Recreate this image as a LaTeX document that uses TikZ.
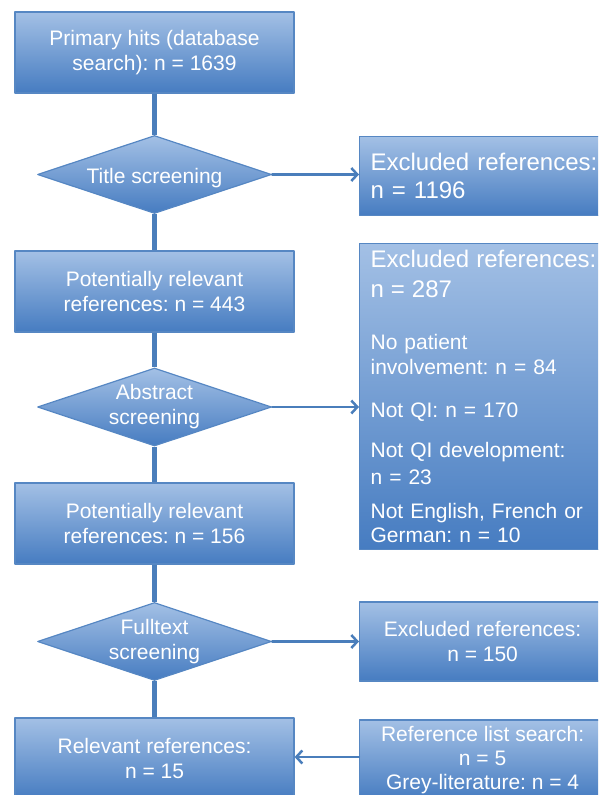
\documentclass[tikz,border=0pt]{standalone}
\usepackage{fontspec}
\setmainfont{Liberation Sans}
\usetikzlibrary{shapes.geometric,arrows.meta}
\definecolor{boxtop}{RGB}{163,192,229}
\definecolor{boxbot}{RGB}{70,124,193}
\definecolor{boxline}{RGB}{86,135,195}
\definecolor{linkblue}{RGB}{74,126,187}
\newcommand{\bigtxt}{\fontsize{24}{28}\selectfont}
\frenchspacing
\tikzset{
  flowbox/.style={rectangle,draw=boxline,line width=1.2pt,top color=boxtop,bottom color=boxbot,
    text=white,align=center,minimum width=279,minimum height=81,inner sep=0pt,
    font=\fontsize{21}{25}\selectfont},
  screenshape/.style={diamond,aspect=3,draw=boxline,line width=1.2pt,top color=boxtop,bottom color=boxbot,
    text=white,align=center,minimum width=234,minimum height=78,inner sep=0pt,
    font=\fontsize{21}{25}\selectfont},
  exbox/.style={flowbox,minimum width=246,minimum height=79},
  flowlink/.style={draw=linkblue,line width=4.5pt,line cap=butt},
  exarrow/.style={draw=linkblue,line width=2.5pt,-{Straight Barb[length=6pt,width=13pt,line width=2.5pt]}}
}
\begin{document}
\begin{tikzpicture}[line cap=round,line join=round,x=1pt,y=-1pt]
    \useasboundingbox(0,0) rectangle (598,795);
    \clip(0,0) rectangle (598,795);

    % Main column
    \draw(154.5,52.5) node[flowbox] (prim) {Primary hits (database\\ search): n = 1639};
    \draw(154.5,174.5) node[screenshape] (tit) {\raisebox{-1.5pt}[\height][0pt]{Title screening}};
    \draw(154.5,291.5) node[flowbox] (pot1) {Potentially relevant\\ references: n = 443};
    \draw(154.5,407) node[screenshape] (abs) {Abstract\\ screening};
    \draw(154.5,523.5) node[flowbox] (pot2) {Potentially relevant\\ references: n = 156};
    \draw(154.5,641.5) node[screenshape] (full) {Fulltext\\ screening};
    \draw(154.5,758.5) node[flowbox] (rel) {Relevant references:\\ n = 15};

    % Side boxes
    \draw(359,136) node[exbox,anchor=north west,align=left,text width=230,inner xsep=11pt,
        font=\bigtxt] (ex1) {Excluded references:\\ n = 1196};
    \draw(359,243) node[exbox,anchor=north west,align=left,text width=230,inner xsep=11pt,
        minimum height=306] (ex2) {{\bigtxt Excluded references:}\\[5pt]
        {\bigtxt n = 287}\\[27pt]
        No patient\\ involvement: n = 84\\[18pt]
        Not QI: n = 170\\[15pt]
        Not QI development:\\[2pt] n = 23\\[9pt]
        Not English, French or\\[-1pt] German: n = 10};
    \draw(359,641.5) node[exbox,anchor=west] (ex3) {Excluded references:\\ n = 150};
    \draw(359,760) node[exbox,anchor=west,minimum height=80,font=\fontsize{21}{24}\selectfont] (add)
        {Reference list search:\\ n = 5\\ Grey-literature: n = 4};

    % Connectors
    \foreach \source/\target in {prim/tit, tit/pot1, pot1/abs, abs/pot2, pot2/full, full/rel} {
            \draw[flowlink] (\source) -- (\target);
        }
    \draw[exarrow] (tit.east) -- (tit.east -| ex1.west);
    \draw[exarrow] (abs.east) -- (abs.east -| ex2.west);
    \draw[exarrow] (full.east) -- (full.east -| ex3.west);
    \draw[exarrow] ([yshift=3pt]add.west) -- ([yshift=3pt]add.west -| rel.east);
\end{tikzpicture}
\end{document}
